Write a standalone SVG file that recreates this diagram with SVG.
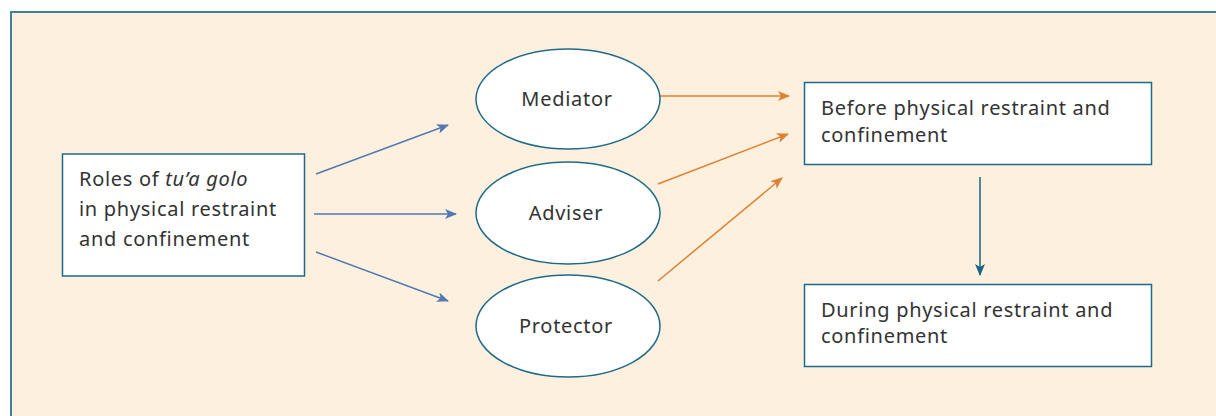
<svg xmlns="http://www.w3.org/2000/svg" width="1216" height="416" viewBox="0 0 1216 416">
<defs>
<style>
.bg{fill:#fdf0de;stroke:#3f7f98;stroke-width:2}
.box{fill:#fff;stroke:#1f6a88;stroke-width:1.5}
.t{font-family:"Noto Sans",sans-serif;font-size:20px;letter-spacing:0.7px;fill:#333}
.c{text-anchor:middle}
.blue{stroke:#5279b2;stroke-width:1.5;fill:none;marker-end:url(#mb)}
.orange{stroke:#e0802f;stroke-width:1.5;fill:none;marker-end:url(#mo)}
.teal{stroke:#166585;stroke-width:1.5;fill:none;marker-end:url(#mt)}
</style>
<marker id="mb" viewBox="0 0 12 10" refX="11" refY="5" markerWidth="12" markerHeight="10" markerUnits="userSpaceOnUse" orient="auto"><path d="M0,0 L12,5 L0,10 L3,5 Z" fill="#5279b2"/></marker>
<marker id="mo" viewBox="0 0 12 10" refX="11" refY="5" markerWidth="12" markerHeight="10" markerUnits="userSpaceOnUse" orient="auto"><path d="M0,0 L12,5 L0,10 L3,5 Z" fill="#e0802f"/></marker>
<marker id="mt" viewBox="0 0 12 10" refX="11" refY="5" markerWidth="12" markerHeight="10" markerUnits="userSpaceOnUse" orient="auto"><path d="M0,0 L12,5 L0,10 L3,5 Z" fill="#166585"/></marker>
</defs>
<rect class="bg" x="11" y="12" width="1220" height="420"/>
<g id="connectors">
<line class="blue" x1="316" y1="174" x2="448" y2="125"/>
<line class="blue" x1="314" y1="214" x2="456" y2="214"/>
<line class="blue" x1="316" y1="252" x2="448" y2="301"/>
<line class="orange" x1="660" y1="96" x2="789" y2="96"/>
<line class="orange" x1="658" y1="184" x2="788" y2="134"/>
<line class="orange" x1="658" y1="281" x2="782" y2="178"/>
<line class="teal" x1="980" y1="177" x2="980" y2="275"/>
</g>
<g id="roles">
<rect class="box" x="62.5" y="154" width="242" height="122"/>
<text class="t" x="79" y="186">Roles of <tspan font-style="italic">tu’a golo</tspan></text>
<text class="t" x="79" y="216">in physical restraint</text>
<text class="t" x="79" y="246">and confinement</text>
</g>
<g id="mediator">
<ellipse class="box" cx="568" cy="99" rx="92" ry="50"/>
<text class="t c" x="567" y="106">Mediator</text>
</g>
<g id="adviser">
<ellipse class="box" cx="568" cy="213" rx="92" ry="51"/>
<text class="t c" x="566" y="220">Adviser</text>
</g>
<g id="protector">
<ellipse class="box" cx="568" cy="326" rx="92" ry="51"/>
<text class="t c" x="566" y="333">Protector</text>
</g>
<g id="before">
<rect class="box" x="804.5" y="82.5" width="347" height="82"/>
<text class="t" x="821" y="115">Before physical restraint and</text>
<text class="t" x="821" y="142">confinement</text>
</g>
<g id="during">
<rect class="box" x="804.5" y="284.5" width="347" height="82"/>
<text class="t" x="821" y="317">During physical restraint and</text>
<text class="t" x="821" y="343">confinement</text>
</g>
</svg>
